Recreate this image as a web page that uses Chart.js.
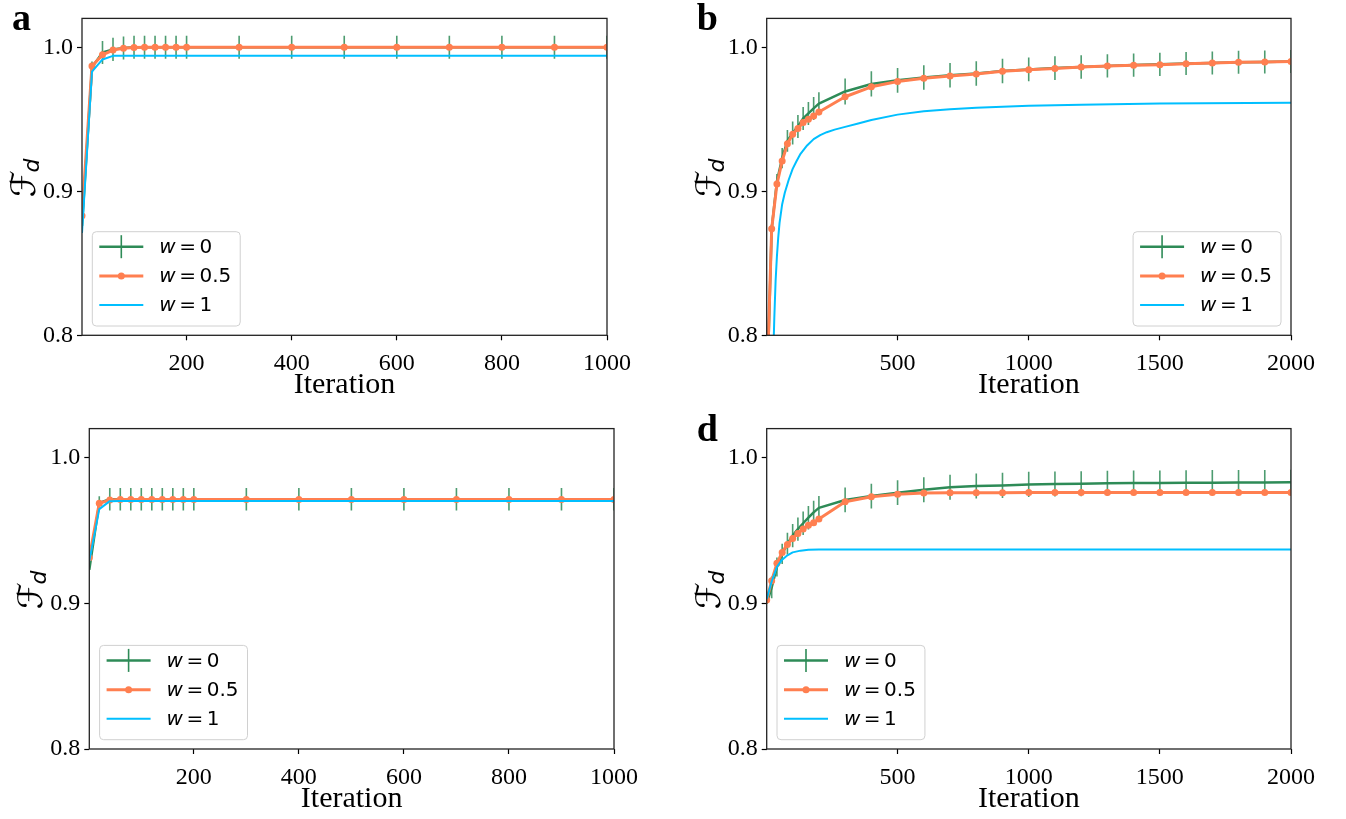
<!DOCTYPE html>
<html>
<head>
<meta charset="utf-8">
<script src="https://cdn.jsdelivr.net/npm/chart.js@4.4.1/dist/chart.umd.min.js"></script>
<style>
  html, body { margin: 0; padding: 0; background: #ffffff; }
  #wrap { position: relative; width: 1346px; height: 819px; overflow: hidden; }
  canvas.panel { position: absolute; }
</style>
</head>
<body>
<div id="wrap">
  <canvas id="panelA" class="panel" style="left:0px;top:0px" width="673" height="410"></canvas>
  <canvas id="panelB" class="panel" style="left:673px;top:0px" width="673" height="410"></canvas>
  <canvas id="panelC" class="panel" style="left:0px;top:410px" width="673" height="409"></canvas>
  <canvas id="panelD" class="panel" style="left:673px;top:410px" width="673" height="409"></canvas>
</div>
<script>
// ---- iteration grids and tick labels ----
const itersShort = [1, 20, 40, 60, 80, 100, 120, 140, 160, 180, 200, 300, 400, 500, 600, 700, 800, 900, 1000];
const itersLong  = [1, 20, 40, 60, 80, 100, 120, 140, 160, 180, 200, 300, 400, 500, 600, 700, 800, 900,
                    1000, 1100, 1200, 1300, 1400, 1500, 1600, 1700, 1800, 1900, 2000];
const xTicksShort = [200, 400, 600, 800, 1000];
const xTicksLong  = [500, 1000, 1500, 2000];
const yTicks = [0.8, 0.9, 1.0];
const weightLabels = ['0', '0.5', '1'];

// ---- panel a ----
const fidA_w0    = [0.876, 0.986, 0.9963, 0.9985, 0.9995, 1.0, 1.0, 1.0, 1.0, 1.0, 1.0, 1.0, 1.0, 1.0, 1.0, 1.0, 1.0, 1.0, 1.0];
const fidA_w0err = [0, 0.004, 0.008, 0.008, 0.008, 0.008, 0.008, 0.008, 0.008, 0.008, 0.008, 0.008, 0.008, 0.008, 0.008, 0.008, 0.008, 0.008, 0.008];
const fidA_w05   = [0.883, 0.987, 0.9947, 0.998, 0.9993, 0.9998, 1.0, 1.0, 1.0, 1.0, 1.0, 1.0, 1.0, 1.0, 1.0, 1.0, 1.0, 1.0, 1.0];
const fidA_w1    = [0.871, 0.983, 0.9915, 0.994, 0.994, 0.994, 0.994, 0.994, 0.994, 0.994, 0.994, 0.994, 0.994, 0.994, 0.994, 0.994, 0.994, 0.994, 0.994];

// ---- panel b ----
const fidB_w0    = [0.75, 0.874, 0.907, 0.923, 0.935, 0.9405, 0.945, 0.9505, 0.954, 0.9575, 0.9608, 0.9693, 0.9745, 0.977, 0.979, 0.9805, 0.9817, 0.9835,
                    0.9846, 0.9855, 0.9863, 0.987, 0.9876, 0.9881, 0.9887, 0.9891, 0.9896, 0.9898, 0.9901];
const fidB_w0err = [0, 0.003, 0.005, 0.007, 0.0075, 0.008, 0.008, 0.008, 0.008, 0.008, 0.008, 0.009, 0.0088, 0.0086, 0.0085, 0.0085, 0.0085, 0.0085,
                    0.0082, 0.0082, 0.0082, 0.0081, 0.0081, 0.0081, 0.008, 0.008, 0.008, 0.008, 0.008];
const fidB_w05   = [0.76, 0.874, 0.905, 0.921, 0.933, 0.9395, 0.9436, 0.9477, 0.950, 0.9523, 0.955, 0.9656, 0.9725, 0.9762, 0.9785, 0.980, 0.9814, 0.9833,
                    0.9844, 0.9853, 0.9862, 0.9869, 0.9874, 0.9879, 0.9886, 0.989, 0.9895, 0.9897, 0.990];
const itersB_w1  = [1, 20, 30, 35, 40, 45, 50, 60, 70, 85, 100, 115, 130, 155, 180, 205, 230, 260, 300, 350, 400, 500, 600, 700, 800, 1000, 1200, 1500, 2000];
const fidB_w1    = [0.60, 0.745, 0.812, 0.838, 0.855, 0.868, 0.878, 0.891, 0.899, 0.908, 0.9155, 0.921, 0.926, 0.9318, 0.9362, 0.939, 0.941, 0.9428,
                    0.9447, 0.947, 0.9495, 0.9532, 0.9555, 0.957, 0.958, 0.9593, 0.9601, 0.961, 0.9615];

// ---- panel c ----
const fidC_w0    = [0.923, 0.969, 0.9715, 0.9715, 0.9715, 0.9715, 0.9715, 0.9715, 0.9715, 0.9715, 0.9715, 0.9715, 0.9715, 0.9715, 0.9715, 0.9715, 0.9715, 0.9715, 0.9715];
const fidC_w0err = [0, 0.0045, 0.0077, 0.0077, 0.0077, 0.0077, 0.0077, 0.0077, 0.0077, 0.0077, 0.0077, 0.0077, 0.0077, 0.0077, 0.0077, 0.0077, 0.0077, 0.0077, 0.0077];
const fidC_w05   = [0.9313, 0.9687, 0.971, 0.9713, 0.9713, 0.9713, 0.9713, 0.9713, 0.9713, 0.9713, 0.9713, 0.9713, 0.9713, 0.9713, 0.9713, 0.9713, 0.9713, 0.9713, 0.9713];
const fidC_w1    = [0.929, 0.9647, 0.9702, 0.9703, 0.9703, 0.9703, 0.9703, 0.9703, 0.9703, 0.9703, 0.9703, 0.9703, 0.9703, 0.9703, 0.9703, 0.9703, 0.9703, 0.9703, 0.9703];

// ---- panel d ----
const fidD_w0    = [0.900, 0.911, 0.925, 0.934, 0.941, 0.9465, 0.951, 0.955, 0.9588, 0.9625, 0.9656, 0.971, 0.9737, 0.976, 0.978, 0.9797, 0.9806, 0.981,
                    0.9817, 0.982, 0.9822, 0.9824, 0.9826, 0.9827, 0.9828, 0.9829, 0.983, 0.983, 0.9831];
const fidD_w0err = [0, 0.0075, 0.0065, 0.007, 0.0075, 0.008, 0.008, 0.008, 0.008, 0.008, 0.0082, 0.0085, 0.0085, 0.0085, 0.0086, 0.0086, 0.0086, 0.0086,
                    0.0086, 0.0086, 0.0086, 0.0086, 0.0086, 0.0086, 0.0086, 0.0086, 0.0086, 0.0086, 0.0086];
const fidD_w05   = [0.9023, 0.9155, 0.9275, 0.935, 0.9405, 0.9446, 0.948, 0.951, 0.9536, 0.9554, 0.9579, 0.9698, 0.9732, 0.975, 0.9757, 0.9759, 0.976, 0.976,
                    0.9762, 0.9762, 0.9762, 0.9762, 0.9762, 0.9762, 0.9762, 0.9762, 0.9762, 0.9762, 0.9762];
const itersD_w1  = [1, 20, 40, 60, 80, 100, 130, 160, 200, 300, 500, 1000, 1500, 2000];
const fidD_w1    = [0.903, 0.915, 0.925, 0.930, 0.933, 0.935, 0.9362, 0.9368, 0.937, 0.937, 0.937, 0.937, 0.937, 0.937];

// ---- colours ----
const C_W0  = '#2e8b57';
const C_W05 = '#ff7f50';
const C_W1  = '#00bfff';

const TICK_FONT = '"Liberation Serif", "Times New Roman", serif';
const MATH_FONT = '"DejaVu Sans", sans-serif';

const panels = [
  { id: 'panelA', letter: 'a', iters: itersShort, xMax: 1000, xTicks: xTicksShort,
    w0: fidA_w0, w0err: fidA_w0err, w05: fidA_w05, w1x: itersShort, w1: fidA_w1,
    left: 82, top: 15.6, padRight: 66, bottom: 335.3, legend: 'left' },
  { id: 'panelB', letter: 'b', iters: itersLong, xMax: 2000, xTicks: xTicksLong,
    w0: fidB_w0, w0err: fidB_w0err, w05: fidB_w05, w1x: itersB_w1, w1: fidB_w1,
    left: 93.7, top: 15.6, padRight: 55, bottom: 335.3, legend: 'right' },
  { id: 'panelC', letter: '', iters: itersShort, xMax: 1000, xTicks: xTicksShort,
    w0: fidC_w0, w0err: fidC_w0err, w05: fidC_w05, w1x: itersShort, w1: fidC_w1,
    left: 89.3, top: 18.6, padRight: 59, bottom: 339, legend: 'left' },
  { id: 'panelD', letter: 'd', iters: itersLong, xMax: 2000, xTicks: xTicksLong,
    w0: fidD_w0, w0err: fidD_w0err, w05: fidD_w05, w1x: itersD_w1, w1: fidD_w1,
    left: 93.7, top: 18.6, padRight: 55, bottom: 339, legend: 'left' }
];

function toPoints(xs, ys) { return xs.map((x, i) => ({ x: x, y: ys[i] })); }

// "w = 0.5" style label: italic w, upright relation and number
function drawWeightLabel(ctx, x, yMid, val) {
  ctx.textBaseline = 'middle';
  ctx.textAlign = 'left';
  ctx.fillStyle = '#000';
  ctx.font = 'italic 20px ' + MATH_FONT;
  ctx.fillText('w', x, yMid);
  let cx = x + ctx.measureText('w').width + 3.5;
  ctx.font = '20px ' + MATH_FONT;
  ctx.fillText('=', cx, yMid);
  cx += ctx.measureText('=').width + 3.5;
  ctx.fillText(val, cx, yMid);
  cx += ctx.measureText(val).width;
  return cx - x;
}

function measureWeightLabel(ctx, val) {
  ctx.font = 'italic 20px ' + MATH_FONT;
  let w = ctx.measureText('w').width + 7;
  ctx.font = '20px ' + MATH_FONT;
  w += ctx.measureText('=').width + ctx.measureText(val).width;
  return w;
}

// error bars for the w = 0 series, drawn right after its line
const errorBarPlugin = {
  id: 'errorBars',
  afterDatasetDraw(chart, args) {
    const ds = chart.data.datasets[args.index];
    if (!ds.errors) return;
    const ctx = chart.ctx, xs = chart.scales.x, ys = chart.scales.y, a = chart.chartArea;
    ctx.save();
    ctx.beginPath();
    ctx.rect(a.left, a.top, a.right - a.left, a.bottom - a.top);
    ctx.clip();
    ctx.strokeStyle = 'rgba(46,139,87,0.85)';
    ctx.lineWidth = 1.6;
    ds.data.forEach((p, i) => {
      const e = ds.errors[i];
      if (!e) return;
      const px = xs.getPixelForValue(p.x);
      ctx.beginPath();
      ctx.moveTo(px, ys.getPixelForValue(p.y - e));
      ctx.lineTo(px, ys.getPixelForValue(p.y + e));
      ctx.stroke();
    });
    ctx.restore();
  }
};

// axes box, axis titles, panel letter and legend
const framePlugin = {
  id: 'frame',
  afterDatasetsDraw(chart) {
    const ctx = chart.ctx, a = chart.chartArea;
    ctx.save();
    ctx.strokeStyle = '#222';
    ctx.lineWidth = 1.3;
    ctx.strokeRect(a.left, a.top, a.right - a.left, a.bottom - a.top);
    ctx.restore();
  },
  afterDraw(chart) {
    const p = chart.options.plugins.frame;
    const ctx = chart.ctx, a = chart.chartArea;
    ctx.save();

    // x-axis title
    ctx.fillStyle = '#000';
    ctx.font = '30px ' + TICK_FONT;
    ctx.textAlign = 'center';
    ctx.textBaseline = 'alphabetic';
    ctx.fillText('Iteration', (a.left + a.right) / 2, a.bottom + 58);

    // y-axis title: script F with subscript d, rotated
    const cy = (a.top + a.bottom) / 2;
    const cx = a.left - 58;
    ctx.save();
    ctx.translate(cx, cy);
    ctx.rotate(-Math.PI / 2);
    ctx.textAlign = 'left';
    ctx.textBaseline = 'alphabetic';
    ctx.font = '34px ' + MATH_FONT;
    const wF = ctx.measureText('\u2131').width;
    ctx.font = 'italic 22px ' + MATH_FONT;
    const wd = ctx.measureText('d').width;
    const x0 = -(wF + wd) / 2;
    ctx.font = '34px ' + MATH_FONT;
    ctx.fillText('\u2131', x0, 11);
    ctx.font = 'italic 22px ' + MATH_FONT;
    ctx.fillText('d', x0 + wF - 2, 15);
    ctx.restore();

    // panel letter
    if (p.letter) {
      ctx.font = 'bold 38px ' + TICK_FONT;
      ctx.textAlign = 'left';
      ctx.textBaseline = 'alphabetic';
      ctx.fillText(p.letter, a.left - 70, a.top + 12);
    }

    // legend
    let tw = 0;
    weightLabels.forEach(v => { tw = Math.max(tw, measureWeightLabel(ctx, v)); });
    const bw = 7 + 44 + 16 + tw + 9;
    const bh = 94.3;
    const bx = p.legend === 'right' ? a.right - 10 - bw : a.left + 10.3;
    const by = a.bottom - 9.3 - bh;
    ctx.beginPath();
    ctx.roundRect(bx, by, bw, bh, 4);
    ctx.fillStyle = 'rgba(255,255,255,0.8)';
    ctx.fill();
    ctx.strokeStyle = '#d0d0d0';
    ctx.lineWidth = 1;
    ctx.stroke();

    const rows = [by + 15, by + 44.3, by + 73.3];
    const lx0 = bx + 7, lx1 = bx + 51, lmid = (lx0 + lx1) / 2;
    ctx.lineCap = 'butt';
    // w = 0 : line with error-bar mark
    ctx.strokeStyle = C_W0; ctx.lineWidth = 2.5;
    ctx.beginPath(); ctx.moveTo(lx0, rows[0]); ctx.lineTo(lx1, rows[0]); ctx.stroke();
    ctx.lineWidth = 1.6;
    ctx.beginPath(); ctx.moveTo(lmid, rows[0] - 11.5); ctx.lineTo(lmid, rows[0] + 11.5); ctx.stroke();
    // w = 0.5 : line with dot
    ctx.strokeStyle = C_W05; ctx.lineWidth = 3;
    ctx.beginPath(); ctx.moveTo(lx0, rows[1]); ctx.lineTo(lx1, rows[1]); ctx.stroke();
    ctx.fillStyle = C_W05;
    ctx.beginPath(); ctx.arc(lmid, rows[1], 3.5, 0, Math.PI * 2); ctx.fill();
    // w = 1 : plain line
    ctx.strokeStyle = C_W1; ctx.lineWidth = 2;
    ctx.beginPath(); ctx.moveTo(lx0, rows[2]); ctx.lineTo(lx1, rows[2]); ctx.stroke();

    weightLabels.forEach((v, i) => drawWeightLabel(ctx, bx + 67, rows[i] + 1, v));

    ctx.restore();
  }
};

function buildPanel(p) {
  const canvas = document.getElementById(p.id);
  const H = canvas.height;
  const datasets = [
    { label: 'w = 1', data: toPoints(p.w1x, p.w1), borderColor: C_W1, borderWidth: 2,
      pointRadius: 0, order: 0, clip: 0 },
    { label: 'w = 0.5', data: toPoints(p.iters, p.w05), borderColor: C_W05, backgroundColor: C_W05,
      borderWidth: 3, pointRadius: 3.5, pointBorderWidth: 0, pointBackgroundColor: C_W05, order: 1, clip: 0 },
    { label: 'w = 0', data: toPoints(p.iters, p.w0), errors: p.w0err, borderColor: C_W0, borderWidth: 2.5,
      pointRadius: 0, order: 2, clip: 0 }
  ];
  new Chart(canvas, {
    type: 'line',
    data: { datasets: datasets },
    options: {
      responsive: false,
      animation: false,
      devicePixelRatio: 1,
      layout: { padding: { left: 0, top: p.top, right: p.padRight, bottom: 0 } },
      elements: { line: { tension: 0, borderJoinStyle: 'round', borderCapStyle: 'butt' } },
      plugins: {
        legend: { display: false },
        tooltip: { enabled: false },
        frame: { letter: p.letter, legend: p.legend }
      },
      scales: {
        x: {
          type: 'linear', min: 1, max: p.xMax,
          afterBuildTicks: s => { s.ticks = p.xTicks.map(v => ({ value: v })); },
          afterFit: s => { s.height = H - p.bottom; },
          border: { display: false },
          grid: { drawOnChartArea: false, drawTicks: true, tickLength: 5, tickColor: '#000', tickWidth: 1.2, color: '#000' },
          ticks: { font: { family: TICK_FONT, size: 24 }, color: '#000', padding: 9, maxRotation: 0, autoSkip: false,
                   callback: v => String(v) }
        },
        y: {
          type: 'linear', min: 0.8, max: 1.02,
          afterBuildTicks: s => { s.ticks = yTicks.map(v => ({ value: v })); },
          afterFit: s => { s.width = p.left; },
          border: { display: false },
          grid: { drawOnChartArea: false, drawTicks: true, tickLength: 5, tickColor: '#000', tickWidth: 1.2, color: '#000' },
          ticks: { font: { family: TICK_FONT, size: 24 }, color: '#000', padding: 4, autoSkip: false,
                   callback: v => Number(v).toFixed(1) }
        }
      }
    },
    plugins: [errorBarPlugin, framePlugin]
  });
}

panels.forEach(buildPanel);
</script>
</body>
</html>
